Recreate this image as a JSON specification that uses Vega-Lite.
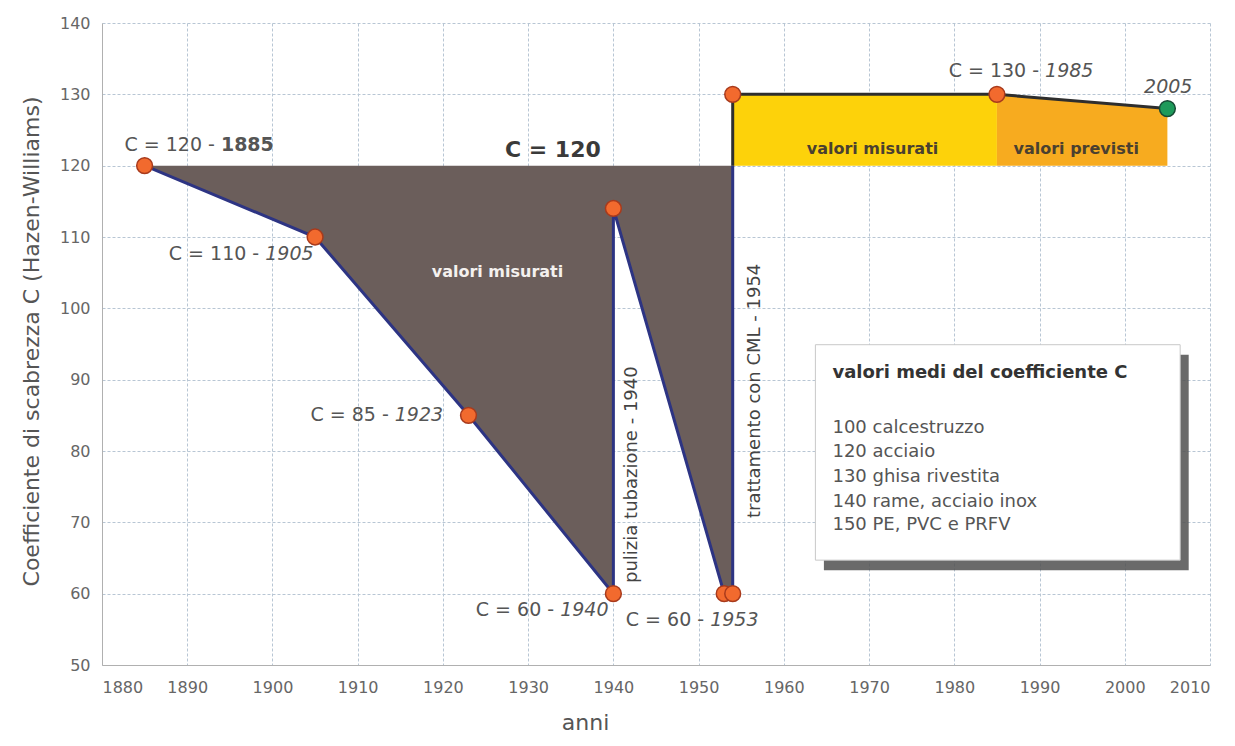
{
  "$schema": "https://vega.github.io/schema/vega-lite/v6.json",
  "width": 1108,
  "height": 642,
  "autosize": {"type": "none"},
  "padding": {"left": 102, "top": 23, "right": 25, "bottom": 81},
  "background": "white",
  "config": {
    "view": {"stroke": null},
    "font": "DejaVu Sans",
    "axis": {
      "gridColor": "#b8c6d4",
      "gridDash": [3, 2],
      "gridWidth": 1,
      "domainColor": "#b0b0b0",
      "ticks": false,
      "labelColor": "#666666",
      "labelFontSize": 16,
      "labelFont": "DejaVu Sans",
      "titleFont": "DejaVu Sans",
      "titleFontWeight": "normal",
      "titleColor": "#555555",
      "titleFontSize": 22
    }
  },
  "datasets": {
    "gray": [
      {"x": 1885, "y": 120, "i": 1},
      {"x": 1905, "y": 110, "i": 2},
      {"x": 1923, "y": 85, "i": 3},
      {"x": 1940, "y": 60, "i": 4},
      {"x": 1940, "y": 114, "i": 5},
      {"x": 1953, "y": 60, "i": 6},
      {"x": 1954, "y": 60, "i": 7}
    ],
    "navy": [
      {"x": 1885, "y": 120, "i": 1},
      {"x": 1905, "y": 110, "i": 2},
      {"x": 1923, "y": 85, "i": 3},
      {"x": 1940, "y": 60, "i": 4},
      {"x": 1940, "y": 114, "i": 5},
      {"x": 1953, "y": 60, "i": 6},
      {"x": 1954, "y": 60, "i": 7},
      {"x": 1954, "y": 120, "i": 8}
    ],
    "dark": [
      {"x": 1954, "y": 120, "i": 1},
      {"x": 1954, "y": 130, "i": 2},
      {"x": 1985, "y": 130, "i": 3},
      {"x": 2005, "y": 128, "i": 4}
    ],
    "yellow": [
      {"x": 1954, "y": 130},
      {"x": 1985, "y": 130}
    ],
    "orange": [
      {"x": 1985, "y": 130},
      {"x": 2005, "y": 128}
    ],
    "pts": [
      {"x": 1885, "y": 120},
      {"x": 1905, "y": 110},
      {"x": 1923, "y": 85},
      {"x": 1940, "y": 60},
      {"x": 1940, "y": 114},
      {"x": 1953, "y": 60},
      {"x": 1954, "y": 60},
      {"x": 1954, "y": 130},
      {"x": 1985, "y": 130}
    ],
    "green": [{"x": 2005, "y": 128}],
    "lab0": [{"x": 1893.6, "y": 122.9, "pre": "C = 120 -", "yr": "1885"}],
    "lab": [
      {"x": 1898.8, "y": 107.6, "pre": "C = 110 -", "yr": "1905"},
      {"x": 1914.0, "y": 85.0, "pre": "C = 85 -", "yr": "1923"},
      {"x": 1933.4, "y": 57.7, "pre": "C = 60 -", "yr": "1940"},
      {"x": 1951.0, "y": 56.3, "pre": "C = 60 -", "yr": "1953"},
      {"x": 1990.3, "y": 133.3, "pre": "C = 130 -", "yr": "1985"}
    ],
    "yr2005": [{"x": 2005.1, "y": 131.0, "t": "2005"}],
    "c120": [{"x": 1932.9, "y": 122.2, "t": "C = 120"}],
    "white": [{"x": 1926.4, "y": 105.1, "t": "valori misurati"}],
    "zone": [
      {"x": 1970.4, "y": 122.4, "t": "valori misurati"},
      {"x": 1994.3, "y": 122.4, "t": "valori previsti"}
    ],
    "rot": [
      {"x": 1942.2, "y": 61.5, "t": "pulizia tubazione - 1940"},
      {"x": 1956.6, "y": 70.6, "t": "trattamento con CML - 1954"}
    ],
    "shadow": [{"x": 1964.7, "x2": 2007.5, "y": 93.5, "y2": 63.3}],
    "box": [{"x": 1963.7, "x2": 2006.5, "y": 94.9, "y2": 64.7}],
    "boxtitle": [{"x": 1965.7, "y": 90.9, "t": "valori medi del coefficiente C"}],
    "boxlines": [
      {"x": 1965.7, "y": 83.2, "t": "100 calcestruzzo"},
      {"x": 1965.7, "y": 79.85, "t": "120 acciaio"},
      {"x": 1965.7, "y": 76.4, "t": "130 ghisa rivestita"},
      {"x": 1965.7, "y": 72.9, "t": "140 rame, acciaio inox"},
      {"x": 1965.7, "y": 69.6, "t": "150 PE, PVC e PRFV"}
    ]
  },
  "layer": [
    {
      "data": {"name": "gray"},
      "mark": {"type": "area", "color": "#6b5e5b", "opacity": 1},
      "encoding": {
        "x": {
          "field": "x", "type": "quantitative",
          "scale": {"domain": [1880, 2010], "nice": false, "zero": false},
          "axis": {"title": "anni", "values": [1880,1890,1900,1910,1920,1930,1940,1950,1960,1970,1980,1990,2000,2010], "format": "d", "labelPadding": 14, "titleX": 483, "titleY": 57, "titleBaseline": "middle", "titleAlign": "center"}
        },
        "y": {
          "field": "y", "type": "quantitative",
          "scale": {"domain": [50, 140], "nice": false, "zero": false},
          "axis": {"title": "Coefficiente di scabrezza C (Hazen-Williams)", "values": [50,60,70,80,90,100,110,120,130,140], "labelPadding": 12, "titleX": -71, "titleY": 318, "titleBaseline": "middle", "titleAlign": "center", "titleAngle": -90}
        },
        "y2": {"datum": 120}
      }
    },
    {
      "data": {"name": "yellow"},
      "mark": {"type": "area", "color": "#fdd20a", "opacity": 1},
      "encoding": {
        "x": {"field": "x", "type": "quantitative"},
        "y": {"field": "y", "type": "quantitative"},
        "y2": {"datum": 120}
      }
    },
    {
      "data": {"name": "orange"},
      "mark": {"type": "area", "color": "#f7ab1f", "opacity": 1},
      "encoding": {
        "x": {"field": "x", "type": "quantitative"},
        "y": {"field": "y", "type": "quantitative"},
        "y2": {"datum": 120}
      }
    },
    {
      "data": {"name": "shadow"},
      "mark": {"type": "rect", "color": "#505050", "opacity": 0.85},
      "encoding": {
        "x": {"field": "x", "type": "quantitative"},
        "x2": {"field": "x2"},
        "y": {"field": "y", "type": "quantitative"},
        "y2": {"field": "y2"}
      }
    },
    {
      "data": {"name": "box"},
      "mark": {"type": "rect", "fill": "white", "stroke": "#c8c8c8", "strokeWidth": 1},
      "encoding": {
        "x": {"field": "x", "type": "quantitative"},
        "x2": {"field": "x2"},
        "y": {"field": "y", "type": "quantitative"},
        "y2": {"field": "y2"}
      }
    },
    {
      "data": {"name": "navy"},
      "mark": {"type": "line", "color": "#2d3483", "strokeWidth": 3},
      "encoding": {
        "x": {"field": "x", "type": "quantitative"},
        "y": {"field": "y", "type": "quantitative"},
        "order": {"field": "i"}
      }
    },
    {
      "data": {"name": "dark"},
      "mark": {"type": "line", "color": "#2e2e2e", "strokeWidth": 3},
      "encoding": {
        "x": {"field": "x", "type": "quantitative"},
        "y": {"field": "y", "type": "quantitative"},
        "order": {"field": "i"}
      }
    },
    {
      "data": {"name": "pts"},
      "mark": {"type": "point", "filled": true, "fill": "#f26a2e", "stroke": "#a83a1c", "strokeWidth": 1.5, "size": 250, "opacity": 1},
      "encoding": {
        "x": {"field": "x", "type": "quantitative"},
        "y": {"field": "y", "type": "quantitative"}
      }
    },
    {
      "data": {"name": "green"},
      "mark": {"type": "point", "filled": true, "fill": "#1e9a5a", "stroke": "#174a35", "strokeWidth": 1.5, "size": 250, "opacity": 1},
      "encoding": {
        "x": {"field": "x", "type": "quantitative"},
        "y": {"field": "y", "type": "quantitative"}
      }
    },
    {
      "data": {"name": "lab0"},
      "mark": {"type": "text", "align": "right", "baseline": "middle", "dx": -3, "fontSize": 19, "color": "#555555"},
      "encoding": {
        "x": {"field": "x", "type": "quantitative"},
        "y": {"field": "y", "type": "quantitative"},
        "text": {"field": "pre"}
      }
    },
    {
      "data": {"name": "lab0"},
      "mark": {"type": "text", "align": "left", "baseline": "middle", "dx": 3, "fontSize": 19, "fontWeight": "bold", "color": "#555555"},
      "encoding": {
        "x": {"field": "x", "type": "quantitative"},
        "y": {"field": "y", "type": "quantitative"},
        "text": {"field": "yr"}
      }
    },
    {
      "data": {"name": "lab"},
      "mark": {"type": "text", "align": "right", "baseline": "middle", "dx": -3, "fontSize": 19, "color": "#555555"},
      "encoding": {
        "x": {"field": "x", "type": "quantitative"},
        "y": {"field": "y", "type": "quantitative"},
        "text": {"field": "pre"}
      }
    },
    {
      "data": {"name": "lab"},
      "mark": {"type": "text", "align": "left", "baseline": "middle", "dx": 3, "fontSize": 19, "fontStyle": "italic", "color": "#555555"},
      "encoding": {
        "x": {"field": "x", "type": "quantitative"},
        "y": {"field": "y", "type": "quantitative"},
        "text": {"field": "yr"}
      }
    },
    {
      "data": {"name": "yr2005"},
      "mark": {"type": "text", "align": "center", "baseline": "middle", "fontSize": 19, "fontStyle": "italic", "color": "#555555"},
      "encoding": {
        "x": {"field": "x", "type": "quantitative"},
        "y": {"field": "y", "type": "quantitative"},
        "text": {"field": "t"}
      }
    },
    {
      "data": {"name": "c120"},
      "mark": {"type": "text", "align": "center", "baseline": "middle", "fontSize": 22, "fontWeight": "bold", "color": "#3a3a3a"},
      "encoding": {
        "x": {"field": "x", "type": "quantitative"},
        "y": {"field": "y", "type": "quantitative"},
        "text": {"field": "t"}
      }
    },
    {
      "data": {"name": "white"},
      "mark": {"type": "text", "align": "center", "baseline": "middle", "fontSize": 16, "fontWeight": "bold", "color": "#f4f1ef"},
      "encoding": {
        "x": {"field": "x", "type": "quantitative"},
        "y": {"field": "y", "type": "quantitative"},
        "text": {"field": "t"}
      }
    },
    {
      "data": {"name": "zone"},
      "mark": {"type": "text", "align": "center", "baseline": "middle", "fontSize": 16, "fontWeight": "bold", "color": "#4a4030"},
      "encoding": {
        "x": {"field": "x", "type": "quantitative"},
        "y": {"field": "y", "type": "quantitative"},
        "text": {"field": "t"}
      }
    },
    {
      "data": {"name": "rot"},
      "mark": {"type": "text", "align": "left", "baseline": "middle", "angle": 270, "fontSize": 18, "color": "#444444"},
      "encoding": {
        "x": {"field": "x", "type": "quantitative"},
        "y": {"field": "y", "type": "quantitative"},
        "text": {"field": "t"}
      }
    },
    {
      "data": {"name": "boxtitle"},
      "mark": {"type": "text", "align": "left", "baseline": "middle", "fontSize": 18, "fontWeight": "bold", "color": "#333333"},
      "encoding": {
        "x": {"field": "x", "type": "quantitative"},
        "y": {"field": "y", "type": "quantitative"},
        "text": {"field": "t"}
      }
    },
    {
      "data": {"name": "boxlines"},
      "mark": {"type": "text", "align": "left", "baseline": "middle", "fontSize": 18, "color": "#555555"},
      "encoding": {
        "x": {"field": "x", "type": "quantitative"},
        "y": {"field": "y", "type": "quantitative"},
        "text": {"field": "t"}
      }
    }
  ]
}
